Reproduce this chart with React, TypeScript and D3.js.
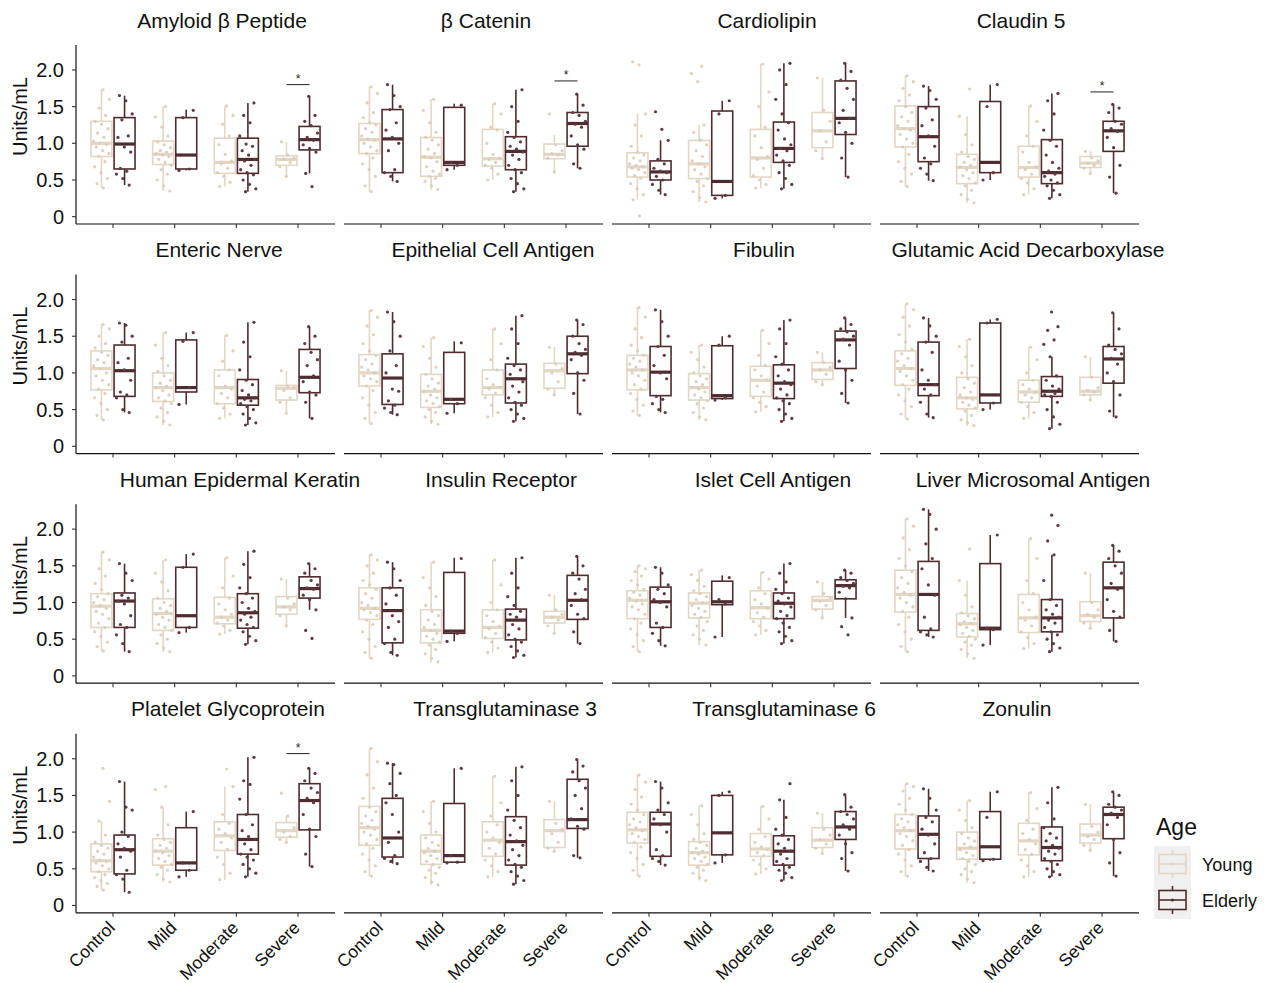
import React from 'react';
import { scaleLinear } from 'd3';

// ---- data ----
const markers = [
  'Amyloid β Peptide', 'β Catenin', 'Cardiolipin', 'Claudin 5',
  'Enteric Nerve', 'Epithelial Cell Antigen', 'Fibulin', 'Glutamic Acid Decarboxylase',
  'Human Epidermal Keratin', 'Insulin Receptor', 'Islet Cell Antigen', 'Liver Microsomal Antigen',
  'Platelet Glycoprotein', 'Transglutaminase 3', 'Transglutaminase 6', 'Zonulin',
];
const severities = ['Control', 'Mild', 'Moderate', 'Severe'];
const ageGroups = ['Young', 'Elderly'];
const yTicks = [0, 0.5, 1, 1.5, 2];
const yTickLabels = ['0', '0.5', '1.0', '1.5', '2.0'];

// [lower whisker, q1, median, q3, upper whisker] per severity
const youngBoxes = [
  [[0.39, 0.82, 1.0, 1.3, 1.73], [0.35, 0.71, 0.85, 1.03, 1.5], [0.41, 0.59, 0.74, 1.07, 1.51], [0.55, 0.7, 0.78, 0.83, 1.02]],
  [[0.34, 0.86, 1.05, 1.27, 1.77], [0.37, 0.55, 0.81, 1.08, 1.6], [0.5, 0.69, 0.79, 1.19, 1.54], [0.61, 0.79, 0.85, 0.99, 1.11]],
  [[0.23, 0.54, 0.68, 0.87, 1.4], [0.2, 0.52, 0.72, 1.04, 1.25], [0.39, 0.54, 0.8, 1.19, 2.08], [0.79, 0.94, 1.17, 1.42, 1.89]],
  [[0.41, 0.95, 1.2, 1.51, 1.92], [0.19, 0.45, 0.67, 0.85, 1.37], [0.3, 0.54, 0.67, 0.96, 1.51], [0.59, 0.67, 0.73, 0.82, 0.89]],
  [[0.36, 0.77, 1.06, 1.3, 1.66], [0.29, 0.61, 0.8, 1.0, 1.55], [0.38, 0.58, 0.8, 1.04, 1.51], [0.45, 0.63, 0.79, 0.83, 1.03]],
  [[0.31, 0.82, 1.0, 1.25, 1.85], [0.3, 0.53, 0.75, 0.98, 1.48], [0.4, 0.7, 0.8, 1.04, 1.6], [0.7, 0.79, 1.03, 1.13, 1.35]],
  [[0.42, 0.77, 1.04, 1.24, 1.89], [0.36, 0.63, 0.8, 0.99, 1.38], [0.47, 0.68, 0.9, 1.09, 1.58], [0.84, 0.91, 1.04, 1.14, 1.28]],
  [[0.37, 0.83, 1.06, 1.3, 1.94], [0.28, 0.51, 0.66, 0.94, 1.46], [0.38, 0.6, 0.74, 0.9, 1.35], [0.63, 0.7, 0.75, 0.94, 1.22]],
  [[0.34, 0.66, 0.95, 1.12, 1.69], [0.33, 0.62, 0.85, 1.05, 1.58], [0.57, 0.71, 0.8, 1.07, 1.61], [0.68, 0.84, 0.94, 1.08, 1.32]],
  [[0.24, 0.77, 0.92, 1.2, 1.65], [0.19, 0.45, 0.62, 0.9, 1.55], [0.32, 0.51, 0.66, 0.9, 1.58], [0.58, 0.72, 0.8, 0.88, 1.1]],
  [[0.33, 0.78, 1.03, 1.16, 1.5], [0.42, 0.79, 0.99, 1.13, 1.44], [0.56, 0.78, 0.93, 1.16, 1.41], [0.79, 0.91, 1.03, 1.08, 1.28]],
  [[0.33, 0.87, 1.11, 1.44, 2.14], [0.24, 0.53, 0.71, 0.85, 1.3], [0.37, 0.59, 0.79, 1.11, 1.87], [0.65, 0.74, 0.82, 1.01, 1.4]],
  [[0.21, 0.46, 0.61, 0.84, 1.15], [0.32, 0.55, 0.74, 0.91, 1.34], [0.35, 0.75, 0.95, 1.14, 1.62], [0.86, 0.93, 1.02, 1.13, 1.22]],
  [[0.4, 0.82, 1.06, 1.35, 2.14], [0.28, 0.56, 0.74, 0.96, 1.42], [0.39, 0.67, 0.89, 1.14, 1.76], [0.74, 0.79, 1.02, 1.17, 1.42]],
  [[0.4, 0.85, 1.03, 1.27, 1.78], [0.34, 0.55, 0.72, 0.87, 1.36], [0.43, 0.67, 0.77, 0.98, 1.35], [0.71, 0.79, 0.89, 1.06, 1.26]],
  [[0.4, 0.77, 1.02, 1.24, 1.66], [0.31, 0.63, 0.78, 1.0, 1.43], [0.39, 0.69, 0.88, 1.12, 1.54], [0.75, 0.85, 0.96, 1.11, 1.38]],
];

const elderlyBoxes = [
  [[0.43, 0.65, 0.99, 1.35, 1.65], [0.63, 0.65, 0.84, 1.35, 1.46], [0.34, 0.59, 0.78, 1.07, 1.55], [0.59, 0.91, 1.05, 1.23, 1.64]],
  [[0.48, 0.6, 1.06, 1.46, 1.8], [0.64, 0.7, 0.74, 1.49, 1.54], [0.34, 0.64, 0.89, 1.09, 1.73], [0.66, 0.96, 1.27, 1.42, 1.67]],
  [[0.3, 0.5, 0.61, 0.76, 1.04], [0.25, 0.29, 0.48, 1.44, 1.58], [0.38, 0.74, 0.93, 1.29, 2.09], [0.54, 1.12, 1.34, 1.85, 2.09]],
  [[0.49, 0.75, 1.09, 1.5, 1.78], [0.5, 0.6, 0.74, 1.57, 1.8], [0.25, 0.45, 0.6, 1.05, 1.68], [0.32, 0.89, 1.17, 1.3, 1.53]],
  [[0.46, 0.68, 1.03, 1.38, 1.68], [0.57, 0.74, 0.8, 1.45, 1.55], [0.29, 0.56, 0.66, 0.91, 1.69], [0.38, 0.73, 0.94, 1.32, 1.63]],
  [[0.43, 0.57, 0.93, 1.26, 1.83], [0.45, 0.58, 0.64, 1.28, 1.43], [0.34, 0.59, 0.92, 1.12, 1.78], [0.44, 0.99, 1.26, 1.5, 1.72]],
  [[0.46, 0.69, 1.01, 1.36, 1.86], [0.63, 0.65, 0.69, 1.37, 1.5], [0.34, 0.65, 0.86, 1.11, 1.72], [0.59, 1.06, 1.45, 1.57, 1.75]],
  [[0.39, 0.69, 0.84, 1.42, 1.75], [0.5, 0.59, 0.7, 1.68, 1.73], [0.24, 0.68, 0.75, 0.95, 1.22], [0.4, 0.86, 1.19, 1.36, 1.82]],
  [[0.33, 0.66, 1.02, 1.13, 1.53], [0.59, 0.66, 0.82, 1.48, 1.66], [0.43, 0.65, 0.86, 1.12, 1.7], [0.9, 1.06, 1.19, 1.35, 1.53]],
  [[0.28, 0.45, 0.89, 1.2, 1.55], [0.47, 0.58, 0.61, 1.41, 1.61], [0.25, 0.49, 0.76, 0.91, 1.61], [0.44, 0.77, 1.03, 1.37, 1.63]],
  [[0.41, 0.66, 1.01, 1.21, 1.48], [0.53, 0.97, 1.01, 1.29, 1.37], [0.44, 0.78, 0.99, 1.13, 1.53], [0.79, 1.05, 1.23, 1.31, 1.44]],
  [[0.53, 0.62, 1.11, 1.56, 2.27], [0.42, 0.63, 0.65, 1.53, 1.92], [0.33, 0.6, 0.79, 1.04, 1.65], [0.47, 0.79, 1.2, 1.55, 1.78]],
  [[0.18, 0.43, 0.76, 0.96, 1.69], [0.39, 0.48, 0.58, 1.06, 1.28], [0.39, 0.7, 0.9, 1.24, 2.02], [0.53, 1.03, 1.43, 1.66, 1.87]],
  [[0.57, 0.66, 0.92, 1.46, 1.94], [0.58, 0.59, 0.68, 1.39, 1.87], [0.29, 0.55, 0.87, 1.21, 1.89], [0.65, 1.05, 1.17, 1.72, 1.99]],
  [[0.55, 0.67, 1.11, 1.27, 1.69], [0.58, 0.69, 0.99, 1.5, 1.55], [0.34, 0.55, 0.74, 0.95, 1.44], [0.47, 0.9, 1.07, 1.28, 1.51]],
  [[0.47, 0.64, 0.97, 1.22, 1.59], [0.61, 0.63, 0.8, 1.28, 1.55], [0.39, 0.61, 0.79, 1.07, 1.61], [0.4, 0.91, 1.24, 1.34, 1.55]],
];

// individual measurements, in hundredths of Units/mL
const youngPoints = [
  ['39 45 52 60 68 75 82 86 90 95 98 100 103 108 114 120 126 130 138 148 160 173', '35 42 50 58 64 70 74 78 82 84 86 88 90 94 98 102 110 122 136 150', '41 47 55 60 66 72 76 85 98 110 126 138 151', '55 68 74 78 80 84 102'],
  ['34 42 55 64 72 80 86 90 95 100 104 106 110 115 120 125 128 135 142 155 168 177', '37 42 48 52 55 58 62 68 75 80 82 86 92 98 104 108 115 128 145 160', '50 58 66 70 74 78 80 85 100 118 122 140 154', '61 80 84 86 90 98 140'],
  ['1 23 30 38 45 52 56 60 64 66 68 70 72 76 80 84 88 96 110 125 140 207 211', '20 26 34 42 48 52 58 64 68 72 76 82 90 98 104 115 125 184 195 205', '39 44 50 56 66 78 82 94 110 122 150 170 208', '79 90 102 117 130 145 189'],
  ['41 48 58 66 75 85 95 100 106 112 118 120 124 130 136 142 150 158 166 175 184 192', '19 24 30 36 42 46 52 56 60 64 68 70 74 78 82 88 98 112 137 174', '30 38 46 52 58 64 68 74 88 96 110 130 151', '59 66 70 73 76 80 89'],
  ['36 42 50 58 66 72 78 84 90 96 100 106 110 114 118 124 128 134 140 150 160 166', '29 34 40 46 52 58 62 66 70 76 80 82 86 90 96 102 110 120 138 155', '38 44 52 58 66 72 78 82 96 104 116 130 151', '45 60 66 76 80 82 103'],
  ['31 38 46 56 66 76 82 88 92 96 100 104 108 112 118 124 130 140 152 164 176 185', '30 34 40 46 50 54 58 62 66 70 74 78 82 86 92 98 108 120 136 148', '40 46 56 66 72 78 80 84 92 104 118 140 160', '70 78 88 100 106 112 135'],
  ['42 48 56 64 72 78 84 90 96 100 104 108 112 116 120 124 130 138 148 160 176 189', '36 40 46 52 58 62 66 70 74 78 80 84 88 92 96 100 108 118 128 138', '47 54 60 66 74 82 90 96 104 110 124 140 158', '84 88 98 104 108 114 128'],
  ['37 44 54 62 70 78 84 90 96 102 106 110 116 120 126 132 142 152 164 176 186 194', '28 32 36 42 48 52 56 60 64 66 70 74 80 86 92 100 110 122 136 146', '38 46 54 60 66 70 74 78 84 90 100 118 135', '63 70 74 76 80 94 122'],
  ['34 40 46 54 60 66 72 78 84 88 92 96 100 104 108 112 118 126 136 146 158 169', '33 38 44 50 56 62 66 70 76 80 84 88 92 96 100 106 116 128 140 158', '57 62 68 72 76 80 84 90 98 106 120 136 161', '68 82 90 94 98 106 132'],
  ['24 32 40 50 60 70 76 82 86 90 92 96 100 106 112 118 124 130 140 150 158 165', '19 24 30 36 42 46 50 54 58 62 66 70 76 82 88 96 108 120 134 155', '32 38 46 52 58 64 68 74 82 90 100 124 158', '58 68 76 80 84 90 110'],
  ['33 40 48 56 64 72 78 84 90 94 98 102 106 110 114 118 124 130 136 142 146 150', '42 50 56 62 68 74 80 84 88 92 96 100 104 108 112 116 122 130 138 144', '56 62 68 74 80 86 92 98 104 112 120 132 141', '79 90 96 102 106 112 128'],
  ['33 40 50 60 70 80 88 94 100 106 110 114 120 126 134 142 150 160 172 188 204 214', '24 30 36 42 46 50 54 58 62 66 70 72 74 78 82 86 94 110 130 173', '37 44 52 60 68 76 80 90 100 112 130 160 187', '65 72 80 84 90 100 140'],
  ['21 26 30 34 38 42 46 50 54 58 60 62 66 70 74 78 82 86 96 115 142 187', '32 36 42 48 52 56 60 64 68 72 74 78 82 86 90 96 110 134 158 162', '35 44 56 66 76 86 92 98 104 112 124 162 186', '86 90 94 100 106 122 153'],
  ['40 46 54 62 70 78 84 90 96 100 104 108 112 116 122 128 134 146 160 178 196 214', '28 32 38 44 48 52 56 60 64 68 72 74 78 82 86 92 100 112 128 142', '39 46 54 62 70 78 86 92 100 110 122 140 176', '74 78 86 98 104 112 142'],
  ['40 48 56 64 72 80 86 90 94 98 102 106 110 114 118 124 130 138 148 158 168 178', '34 38 44 48 52 56 60 64 66 70 72 74 78 82 86 90 98 110 124 136', '43 50 56 62 68 72 76 80 86 94 104 118 135', '71 78 84 90 96 104 126'],
  ['40 46 54 62 70 76 82 88 94 98 102 106 110 114 118 124 130 138 146 156 162 166', '31 36 42 46 50 56 60 64 68 72 76 80 84 88 92 98 106 116 130 143', '39 46 54 62 70 76 84 90 98 104 116 132 154', '75 82 90 94 100 108 138'],
];

const elderlyPoints = [
  ['43 52 58 62 66 88 95 108 110 132 140 158 165', '63 65 135 145', '34 38 44 50 57 60 64 70 76 78 84 90 96 99 110 128 138 155', '41 59 88 93 98 104 108 114 124 130 138 164'],
  ['48 55 60 64 90 100 108 118 128 146 150 165 180', '64 70 74 152', '34 38 45 52 60 64 70 78 84 88 92 96 102 108 115 130 150 173', '66 72 92 98 110 122 126 130 138 142 152 167'],
  ['30 36 44 50 55 60 62 66 72 78 104 119 143', '25 29 140 158', '38 44 52 60 70 76 84 90 93 98 106 118 128 140 160 180 200 209', '54 80 100 115 128 134 145 160 175 186 198 209'],
  ['49 58 66 72 80 96 110 124 132 148 160 172 178', '50 60 150 180', '25 30 36 42 46 50 55 58 62 66 74 84 96 104 118 140 158 168', '32 54 70 94 108 116 120 126 130 142 148 153'],
  ['46 50 66 70 74 90 104 114 120 142 150 165 168', '57 80 143 155', '29 32 38 44 50 54 58 62 64 66 70 76 84 90 104 122 142 169', '38 60 70 74 88 96 110 118 128 140 150 163'],
  ['43 46 52 56 62 75 78 100 110 130 150 170 183', '45 58 64 141', '34 38 44 50 56 60 66 74 82 88 92 98 104 110 120 140 160 178', '44 72 90 100 118 124 128 132 140 150 166 172'],
  ['46 50 58 64 68 92 100 110 124 136 150 170 186', '63 66 138 150', '34 38 44 50 58 62 66 70 78 84 88 96 104 112 122 140 160 172', '59 72 90 104 116 138 146 150 156 160 166 175'],
  ['39 44 60 70 78 84 90 104 128 142 150 164 175', '50 59 168 173', '24 30 40 50 60 68 70 72 75 78 82 90 96 122 139 145 158 163 183', '40 48 70 88 100 112 120 126 132 138 160 182'],
  ['33 44 56 66 70 82 98 102 106 110 130 140 153', '59 66 148 166', '43 48 54 60 66 70 76 80 84 88 92 100 106 112 120 134 152 170', '51 62 90 104 110 118 120 124 130 140 146 153'],
  ['28 32 44 50 66 74 82 98 110 120 130 146 155', '47 58 61 160', '25 28 34 40 46 50 56 64 70 76 80 84 88 96 108 120 140 161', '44 60 78 84 96 104 112 118 132 140 150 163'],
  ['41 48 58 66 72 94 100 104 112 118 124 140 148', '53 98 104 134', '44 48 54 60 66 72 78 82 88 94 98 102 106 112 118 128 140 153', '56 67 79 105 114 120 122 126 130 134 140 144'],
  ['53 56 60 64 80 110 124 146 160 180 200 220 227', '42 63 65 192', '33 38 44 50 56 60 66 72 76 80 84 90 96 104 130 165 184 205 219', '47 62 80 88 104 118 126 140 150 160 170 178'],
  ['18 36 42 48 66 74 78 84 94 100 130 134 169', '39 48 58 128', '39 44 50 56 62 66 70 76 84 90 94 102 110 124 145 165 170 202', '53 70 94 104 124 140 146 154 160 170 180 187'],
  ['57 60 64 68 86 100 124 140 150 166 180 192 194', '58 59 68 187', '29 34 40 46 52 56 62 68 76 82 88 96 106 116 130 150 170 189', '65 68 104 108 118 132 150 160 170 182 190 199'],
  ['55 60 64 68 76 100 110 118 124 130 140 160 169', '58 69 150 155', '34 38 44 48 52 56 60 64 70 74 78 84 90 96 104 120 144 166', '47 64 72 84 96 104 110 118 124 128 134 151'],
  ['47 52 60 64 72 84 96 104 114 120 130 146 159', '61 63 120 155', '39 42 46 50 56 60 64 70 74 78 82 88 92 98 106 118 140 161', '40 58 72 90 110 120 126 130 134 138 150 155'],
];

// significant Young vs Elderly comparisons (Severe group)
const sigMarkers = [0, 1, 3, 12];
const sigHeights = [1.8, 1.85, 1.7, 2.07];

// ---- layout ----
const W = 1271;
const H = 983;
const colLeft = [76, 344, 612, 880];
const panelW = 259;
const panelH = 179;
const rowTop = (r: number) => 45 + r * 229.6;
const titleX = [222, 486, 767, 1021, 219, 493, 764, 1028, 240, 501, 773, 1033, 228, 505, 784, 1017];
const youngCol = '#e2d6c5';
const elderlyCol = '#4e2c30';
const font = '"Liberation Sans", Arial, Helvetica, sans-serif';
const boxHalf = 0.17;
const dodge = 0.1875;

const parsePts = (s: string) => s.split(' ').map(v => +v / 100);
const jitter = (i: number, g: number) => ((((i + 1) * 0.6180339 + g * 0.29) % 1) - 0.5) * 0.27;

function Box({ stats, cx, half, x, y, color }: { stats: number[]; cx: number; half: number; x: any; y: any; color: string }) {
  const [lo, q1, med, q3, hi] = stats;
  const x0 = x(cx - half);
  const x1 = x(cx + half);
  const xc = x(cx);
  return (
    <g stroke={color} fill="none">
      <line x1={xc} x2={xc} y1={y(hi)} y2={y(q3)} strokeWidth={1.6} />
      <line x1={xc} x2={xc} y1={y(q1)} y2={y(lo)} strokeWidth={1.6} />
      <rect x={x0} y={y(q3)} width={x1 - x0} height={Math.max(0.5, y(q1) - y(q3))} strokeWidth={1.6} />
      <line x1={x0} x2={x1} y1={y(med)} y2={y(med)} strokeWidth={3.2} />
    </g>
  );
}

function Panel({ idx }: { idx: number }) {
  const r = Math.floor(idx / 4);
  const c = idx % 4;
  const left = colLeft[c];
  const top = rowTop(r);
  const bottom = top + panelH;
  const x = scaleLinear().domain([0.4, 4.6]).range([left, left + panelW]);
  const y = scaleLinear().domain([-0.1, 2.34]).range([bottom, top]);
  const sigIdx = sigMarkers.indexOf(idx);

  return (
    <g>
      <text x={titleX[idx]} y={top - 17.5} textAnchor="middle" fontSize={21} fontFamily={font} fill="#111">
        {markers[idx]}
      </text>

      {severities.map((s, si) => (
        <g key={s}>
          <Box stats={youngBoxes[idx][si]} cx={si + 1 - dodge} half={boxHalf} x={x} y={y} color={youngCol} />
          <Box stats={elderlyBoxes[idx][si]} cx={si + 1 + dodge} half={boxHalf} x={x} y={y} color={elderlyCol} />
        </g>
      ))}

      {severities.map((s, si) => (
        <g key={'p' + s}>
          {parsePts(youngPoints[idx][si]).map((v, i) => (
            <circle key={i} cx={x(si + 1 - dodge + jitter(i, si))} cy={y(v)} r={1.6} fill="#d9cbb8" fillOpacity={0.9} />
          ))}
          {parsePts(elderlyPoints[idx][si]).map((v, i) => (
            <circle key={i} cx={x(si + 1 + dodge + jitter(i, si + 4))} cy={y(v)} r={1.6} fill="#5c3a3f" />
          ))}
        </g>
      ))}

      {sigIdx >= 0 && (
        <g>
          <line x1={x(4 - dodge)} x2={x(4 + dodge)} y1={y(sigHeights[sigIdx])} y2={y(sigHeights[sigIdx])} stroke="#222" strokeWidth={1} />
          <text x={x(4)} y={y(sigHeights[sigIdx]) - 1.5} textAnchor="middle" fontSize={12} fontFamily={font} fill="#222">*</text>
        </g>
      )}

      {/* x axis */}
      <line x1={left} x2={left + panelW} y1={bottom} y2={bottom} stroke="#111" strokeWidth={1.2} />
      {severities.map((s, si) => (
        <g key={'t' + s}>
          <line x1={x(si + 1)} x2={x(si + 1)} y1={bottom} y2={bottom + 4} stroke="#333" strokeWidth={1.1} />
          {r === 3 && (
            <text
              transform={`translate(${x(si + 1) + 3},${bottom + 16}) rotate(-45)`}
              textAnchor="end"
              fontSize={17.5}
              fontFamily={font}
              fill="#111"
            >
              {s}
            </text>
          )}
        </g>
      ))}

      {/* y axis only on first column */}
      {c === 0 && (
        <g>
          <line x1={left} x2={left} y1={top} y2={bottom} stroke="#111" strokeWidth={1.2} />
          {yTicks.map((t, ti) => (
            <g key={t}>
              <line x1={left - 4} x2={left} y1={y(t)} y2={y(t)} stroke="#333" strokeWidth={1.1} />
              <text x={left - 12} y={y(t) + 7} textAnchor="end" fontSize={20} fontFamily={font} fill="#111">
                {yTickLabels[ti]}
              </text>
            </g>
          ))}
          <text
            transform={`translate(27,${(top + bottom) / 2 - 18}) rotate(-90)`}
            textAnchor="middle"
            fontSize={20}
            fontFamily={font}
            fill="#111"
          >
            Units/mL
          </text>
        </g>
      )}
    </g>
  );
}

function LegendKey({ yc, color }: { yc: number; color: string }) {
  return (
    <g stroke={color} fill="none" strokeWidth={1.6}>
      <line x1={1172.5} x2={1172.5} y1={yc - 14} y2={yc - 9.5} />
      <line x1={1172.5} x2={1172.5} y1={yc + 9.5} y2={yc + 14} />
      <rect x={1159} y={yc - 9.5} width={27} height={19} />
      <line x1={1159} x2={1186} y1={yc} y2={yc} strokeWidth={1.6} />
      <circle cx={1172.5} cy={yc} r={1.5} fill={color} stroke="none" />
    </g>
  );
}

export default function App() {
  return (
    <div style={{ position: 'absolute', left: 0, top: 0, background: 'white' }}>
      <svg width={W} height={H} viewBox={`0 0 ${W} ${H}`}>
        <rect width={W} height={H} fill="white" />
        {markers.map((m, i) => (
          <Panel key={m} idx={i} />
        ))}
        <g>
          <text x={1156} y={835} fontSize={23} fontFamily={font} fill="#111">Age</text>
          <rect x={1154} y={846} width={37} height={73} fill="#f0f0f0" />
          <LegendKey yc={864} color={youngCol} />
          <LegendKey yc={900} color={elderlyCol} />
          {ageGroups.map((g, i) => (
            <text key={g} x={1202} y={871 + i * 36} fontSize={18} fontFamily={font} fill="#111">{g}</text>
          ))}
        </g>
      </svg>
    </div>
  );
}
